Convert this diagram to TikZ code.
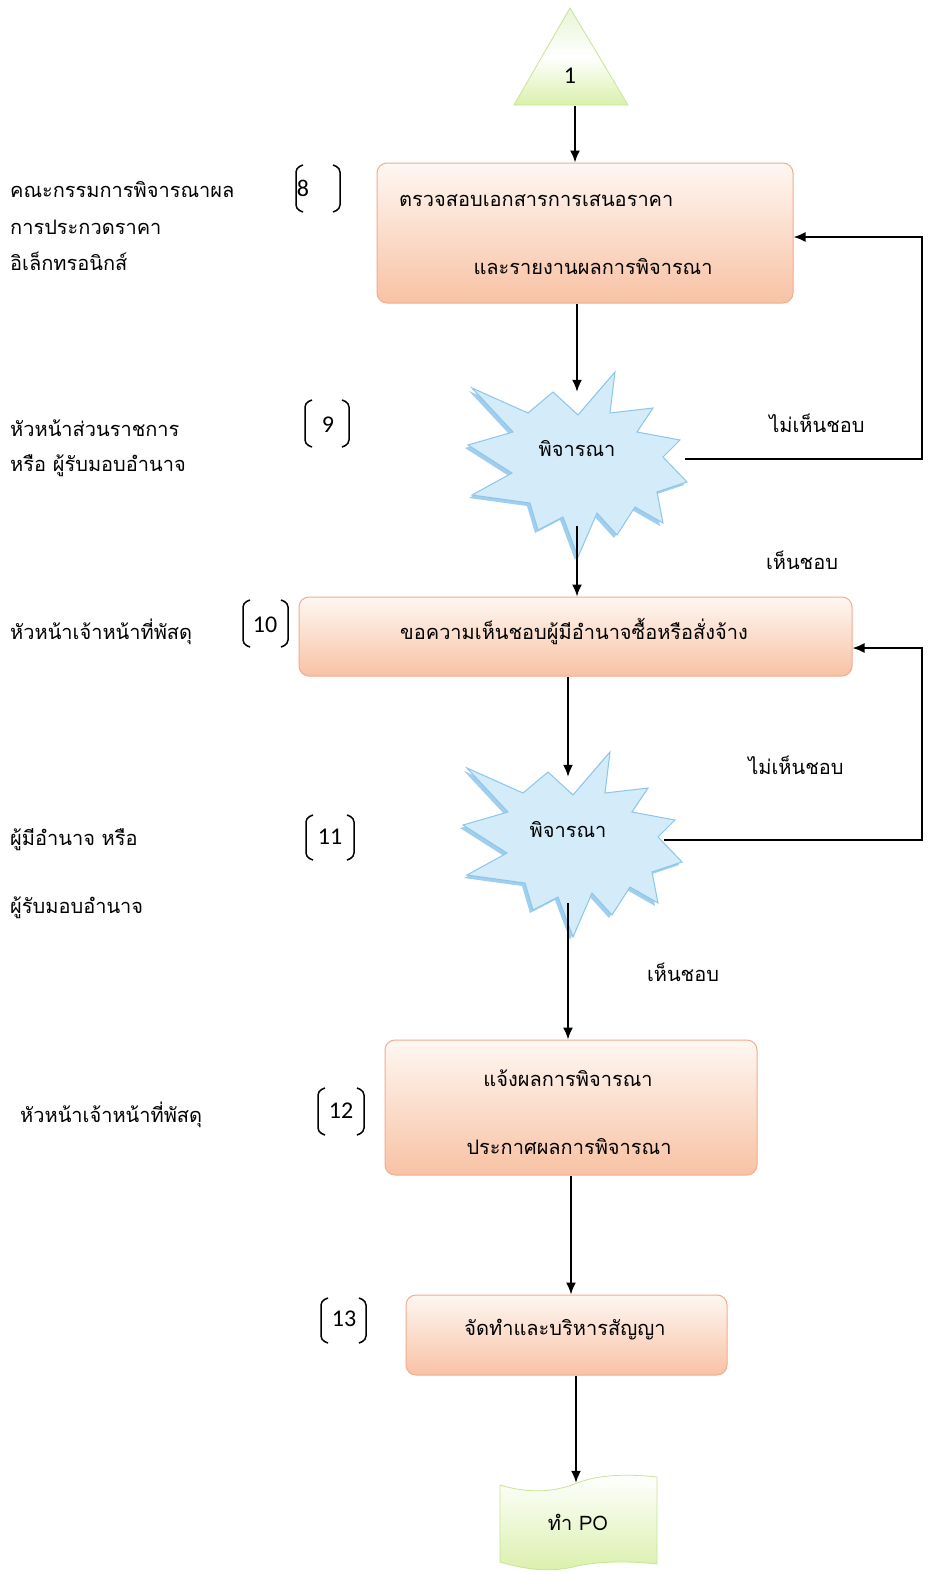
\documentclass[tikz,border=0pt]{standalone}
\usepackage{fontspec}
\setmainfont{Loma}[Script=Thai]
\newfontfamily\numfont{Carlito}
\usetikzlibrary{arrows.meta,calc}
\definecolor{boxtop}{RGB}{254,247,242}
\definecolor{boxbot}{RGB}{248,194,164}
\definecolor{boxline}{RGB}{242,172,142}
\definecolor{starfill}{RGB}{212,235,249}
\definecolor{starline}{RGB}{140,198,236}
\definecolor{starshadow}{RGB}{160,206,238}
\definecolor{greentop}{RGB}{232,245,212}
\definecolor{greenbot}{RGB}{218,240,172}
\definecolor{greenline}{RGB}{200,228,150}
\begin{document}
\begin{tikzpicture}[x=1pt,y=-1pt,
  txt/.style={font=\fontsize{20}{24}\selectfont, inner sep=0pt},
  lbl/.style={txt, anchor=west},
  num/.style={font=\numfont\fontsize{24}{28}\selectfont, inner sep=0pt},
  proc/.style={draw=boxline, line width=1pt, rounded corners=10pt, top color=boxtop, bottom color=boxbot, inner sep=0pt},
  hub/.style={inner sep=0pt, draw=none},
  conn/.style={line width=1.8pt, -{Latex[length=12pt,width=10pt]}},
  brk/.style={line width=1.5pt, rounded corners=4pt},
  burst/.pic={
    \fill[starshadow, shift={(-3,3)}] (-103,-72) -- (-47,-47) -- (-22,-68) -- (3,-45) -- (40,-88) -- (35,-47) -- (78,-52) -- (62,-28) -- (105,-20) -- (88,-3) -- (112,22) -- (82,32) -- (88,63) -- (60,47) -- (42,75) -- (22,53) -- (3,97) -- (-12,57) -- (-37,70) -- (-45,43) -- (-103,35) -- (-63,13) -- (-107,-15) -- (-62,-28) -- cycle;
    \path[draw=starline, fill=starfill, line width=1pt] (-103,-72) -- (-47,-47) -- (-22,-68) -- (3,-45) -- (40,-88) -- (35,-47) -- (78,-52) -- (62,-28) -- (105,-20) -- (88,-3) -- (112,22) -- (82,32) -- (88,63) -- (60,47) -- (42,75) -- (22,53) -- (3,97) -- (-12,57) -- (-37,70) -- (-45,43) -- (-103,35) -- (-63,13) -- (-107,-15) -- (-62,-28) -- cycle;
  }
]
\useasboundingbox[fill=white] (0,0) rectangle (928,1574);

% start triangle
\path[draw=greenline, line width=0.8pt, top color=greentop, bottom color=greenbot, middle color=white] (570,8) -- (628,105) -- (514,105) -- cycle;
\node[num] (t1) at (570,76) {1};
\coordinate (tb) at (575,106);

% process boxes
\node[proc, minimum width=416pt, minimum height=140pt] (b1) at (585,233) {};
\node[txt, anchor=west] (b1a) at (399,201) {ตรวจสอบเอกสารการเสนอราคา};
\node[txt] (b1b) at (593,267) {และรายงานผลการพิจารณา};

\node[proc, minimum width=553pt, minimum height=79pt] (b2) at (575.5,636.5) {};
\node[txt] (b2a) at (574,632) {ขอความเห็นชอบผู้มีอำนาจซื้อหรือสั่งจ้าง};

\node[proc, minimum width=372pt, minimum height=135pt] (b3) at (571,1107.5) {};
\node[txt] (b3a) at (568,1078) {แจ้งผลการพิจารณา};
\node[txt] (b3b) at (569,1147) {ประกาศผลการพิจารณา};

\node[proc, minimum width=321pt, minimum height=80pt] (b4) at (566.5,1335) {};
\node[txt] (b4a) at (565,1330) {จัดทำและบริหารสัญญา};

% decision bursts
\pic at (575,460) {burst};
\node[hub, minimum width=216pt, minimum height=134pt] (s1) at (577,459) {};
\node[txt] (s1t) at (577,449) {พิจารณา};

\pic at (570,840) {burst};
\node[hub, minimum width=192pt, minimum height=126pt] (s2) at (568,840) {};
\node[txt] (s2t) at (568,830) {พิจารณา};

% end: punched tape
\path[draw=greenline, line width=0.8pt, top color=white, bottom color=greenbot]
  (500,1485) .. controls (530,1494) and (555,1492) .. (577,1483)
  .. controls (600,1474) and (630,1474) .. (657,1477)
  -- (657,1564) .. controls (630,1561) and (600,1561) .. (577,1566)
  .. controls (555,1572) and (530,1571) .. (500,1562) -- cycle;
\node[hub, minimum width=157pt, minimum height=74pt] (po) at (576,1520) {};
\node[txt] (pot) at (578,1522) {ทำ PO};

% connectors
\draw[conn] (tb) -- (tb |- b1.north);
\draw[conn] (s1.north |- b1.south) -- (s1.north);
\draw[conn] (s1.south) -- (s1.south |- b2.north);
\draw[conn] (s2.north |- b2.south) -- (s2.north);
\draw[conn] (s2.south) -- (s2.south |- b3.north);
\draw[conn] (b3.south) -- (b3.south |- b4.north);
\draw[conn] (po.north |- b4.south) -- (po.north);

\coordinate (r1) at (922,237);
\coordinate (r2) at (922,648);
\draw[conn] (s1.east) -| (r1) -- (r1 -| b1.east);
\draw[conn] (s2.east) -| (r2) -- (r2 -| b2.east);

% edge labels
\node[txt] (n1) at (817,423) {ไม่เห็นชอบ};
\node[txt] (y1) at (802,560) {เห็นชอบ};
\node[txt] (n2) at (796,765) {ไม่เห็นชอบ};
\node[txt] (y2) at (683,972) {เห็นชอบ};

% role labels
\node[lbl] (r8a) at (10,190) {คณะกรรมการพิจารณาผล};
\node[lbl] (r8b) at (10,227) {การประกวดราคา};
\node[lbl] (r8c) at (10,261) {อิเล็กทรอนิกส์};
\node[lbl] (r9a) at (10,428) {หัวหน้าส่วนราชการ};
\node[lbl] (r9b) at (10,466) {หรือ ผู้รับมอบอำนาจ};
\node[lbl] (r10) at (10,632) {หัวหน้าเจ้าหน้าที่พัสดุ};
\node[lbl] (r11a) at (10,840) {ผู้มีอำนาจ หรือ};
\node[lbl] (r11b) at (10,908) {ผู้รับมอบอำนาจ};
\node[lbl] (r12) at (20,1115) {หัวหน้าเจ้าหน้าที่พัสดุ};

% step brackets
\foreach \xl/\xr/\ya/\yb in {296/340/165/212, 305/349/400/447, 243/288/600/647, 306/354/815/860, 318/364/1088/1135, 321/366/1298/1343}{
  \draw[brk] (\xl+7,\ya) -- (\xl,\ya+3) -- (\xl,\yb-3) -- (\xl+7,\yb);
  \draw[brk] (\xr-7,\ya) -- (\xr,\ya+3) -- (\xr,\yb-3) -- (\xr-7,\yb);
}
\node[num] (k8) at (303,188) {8};
\node[num] (k9) at (328,425) {9};
\node[num] (k10) at (265,625) {10};
\node[num] (k11) at (330,837) {11};
\node[num] (k12) at (341,1111) {12};
\node[num] (k13) at (344,1319) {13};
\end{tikzpicture}
\end{document}
